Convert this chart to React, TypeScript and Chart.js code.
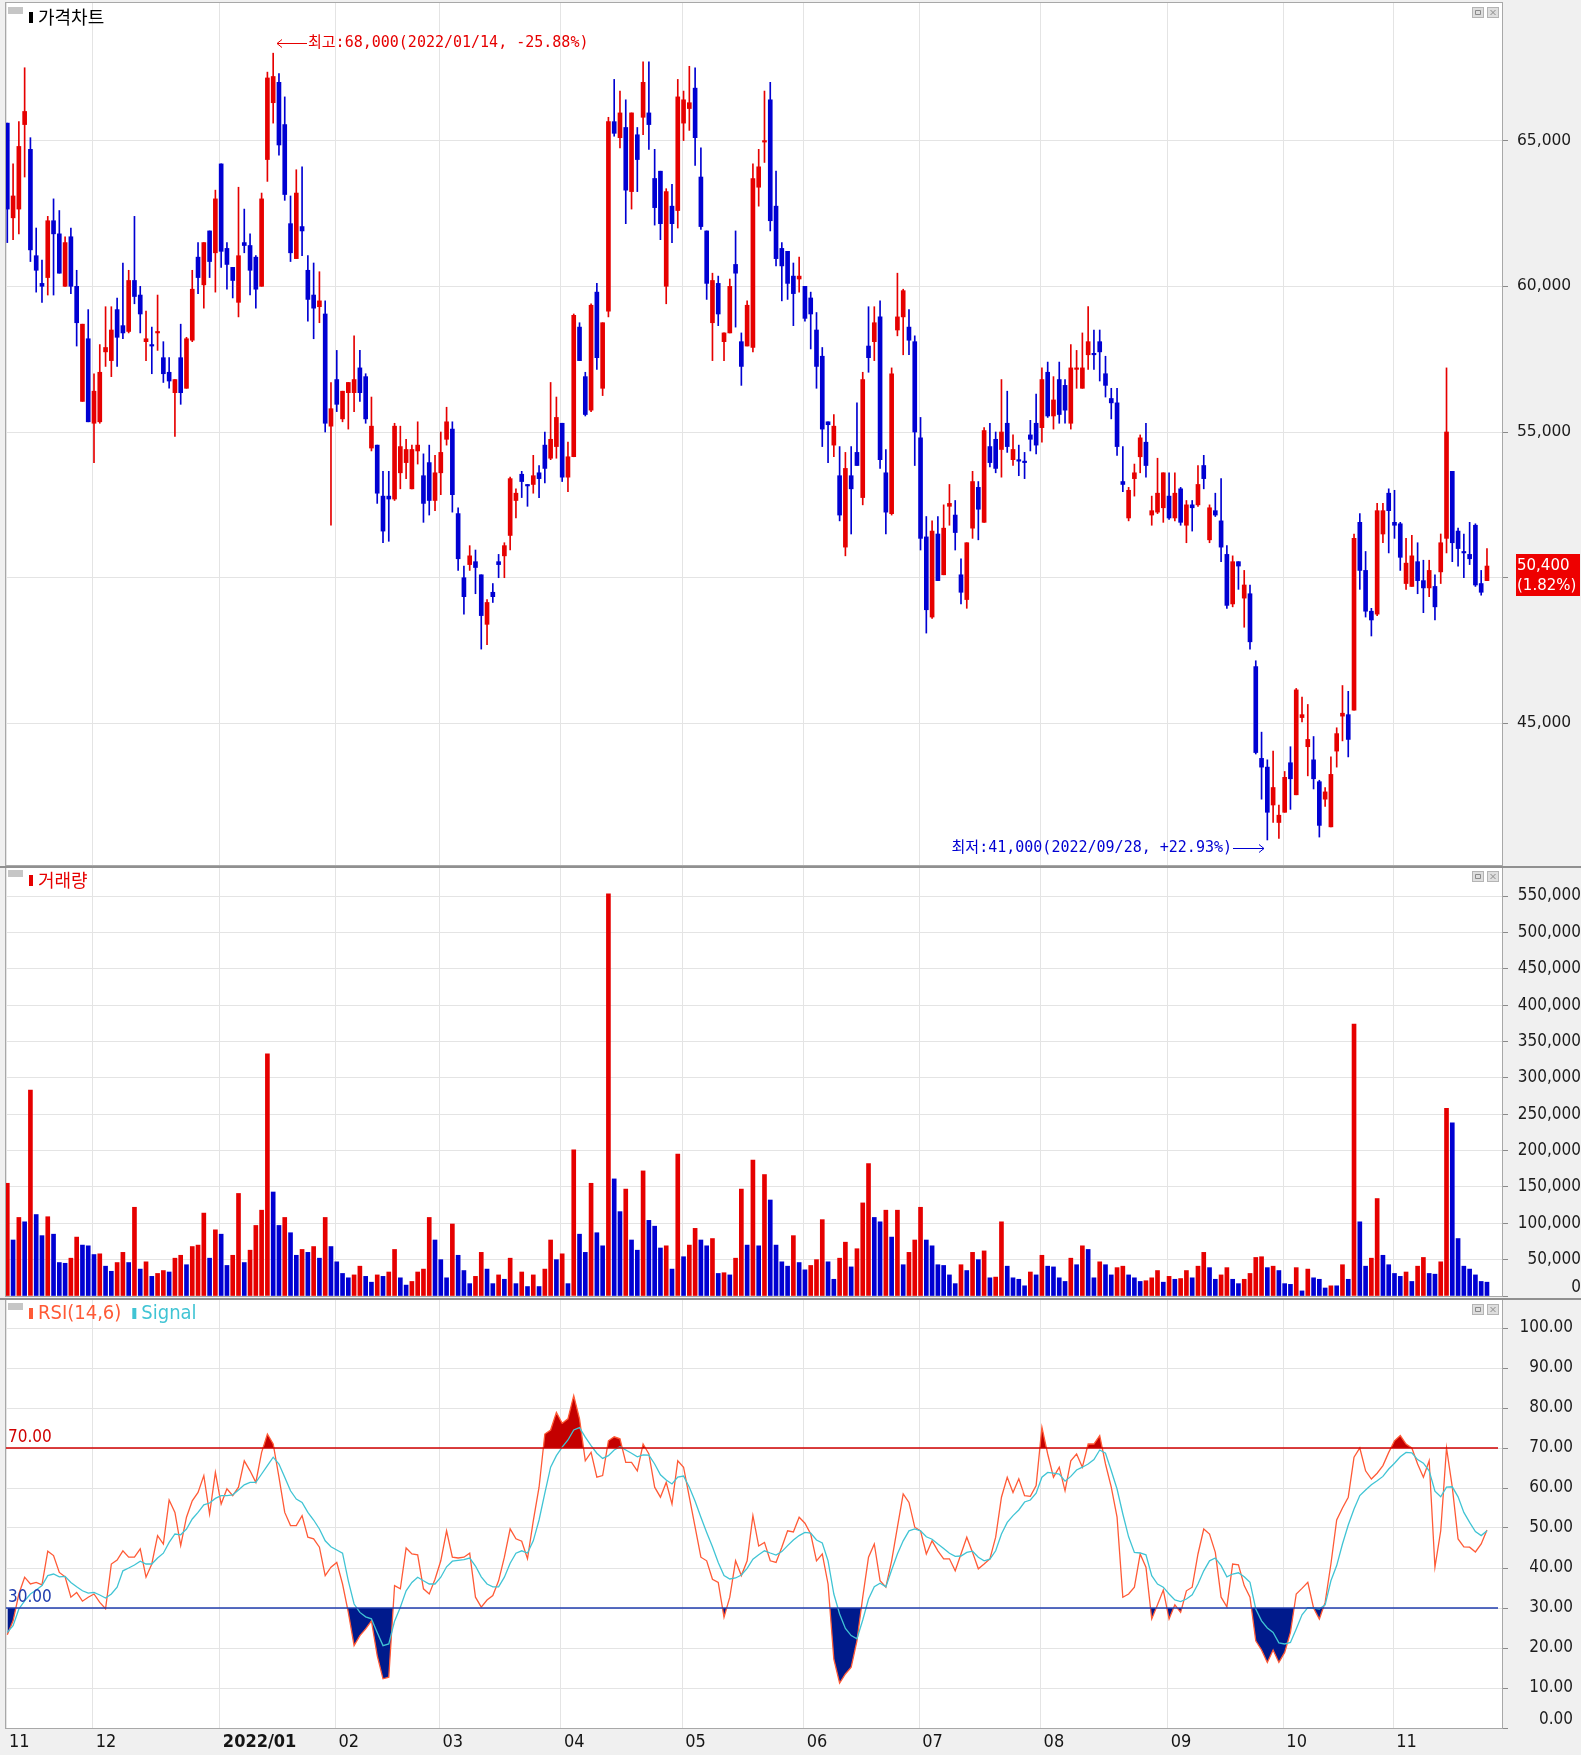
import React, { useEffect, useRef } from 'react';
import { Chart, registerables } from 'chart.js';

Chart.register(...registerables);

// ================= DATA =================
const opens = [
  65600, 62350, 62650, 65550, 64700, 61050, 60100, 60300, 62250, 61800,
  60000, 61700, 60000, 56050, 58200, 55300, 55350, 57750, 57450, 59200,
  58650, 58450, 60200, 59700, 58100, 58000, 58400, 57550, 57050, 56350,
  57550, 56500, 58150, 61000, 60050, 61900, 61150, 64200, 61300, 60650,
  59450, 61500, 61400, 61000, 60000, 64350, 66300, 67000, 65550, 62150,
  60950, 62050, 60550, 59700, 59300, 59050, 55200, 56800, 55450, 56350,
  56350, 57200, 56900, 54450, 54550, 52800, 52800, 52700, 53600, 53950,
  53050, 54350, 53500, 53950, 52650, 53600, 54750, 55100, 52200, 50000,
  50450, 50550, 50100, 48400, 49500, 50550, 50750, 51450, 52650, 53550,
  53200, 53200, 53600, 54550, 54100, 54500, 55300, 53450, 54150, 58600,
  56900, 55750, 59800, 56500, 59150, 65650, 65100, 65450, 63250, 65200,
  65800, 65950, 63700, 63950, 60000, 62750, 62600, 65600, 66100, 66800,
  63750, 61900, 58750, 60100, 58100, 58400, 60750, 58100, 57950, 57900,
  63400, 64950, 66400, 62750, 61300, 61200, 60350, 60250, 60000, 59600,
  58500, 57600, 55350, 54550, 53500, 51050, 53500, 54300, 52750, 57950,
  58100, 58950, 53600, 52200, 58500, 58950, 58600, 58100, 54800, 51400,
  48650, 51500, 50100, 52450, 52150, 50100, 49250, 51700, 53100, 51900,
  54500, 54750, 54400, 55300, 54050, 54050, 54000, 54900, 55300, 55150,
  57050, 55550, 56800, 56600, 55300, 57150, 56500, 57650, 57700, 58100,
  57000, 56150, 56000, 53300, 52050, 53400, 54150, 54650, 52150, 52250,
  52400, 52800, 52050, 53050, 51800, 52500, 52500, 53850, 51300, 52300,
  51950, 50800, 49100, 50550, 49300, 49450, 46950, 43800, 43500, 42200,
  41600, 41950, 43650, 42550, 45200, 44200, 43750, 43000, 42400, 41450,
  44050, 45250, 45300, 45450, 51900, 50250, 48850, 48750, 51500, 52900,
  51900, 51850, 49800, 49700, 50550, 49900, 49650, 49700, 50200, 51350,
  53650, 51600, 50900, 50800, 51800, 49800, 49900,
];

const highs = [
  65600, 64200, 65650, 67500, 65100, 62000, 60900, 62400, 63000, 62600,
  61700, 62000, 60550, 58700, 59200, 57000, 58000, 59300, 59300, 59600,
  60800, 60550, 62400, 60000, 59150, 58600, 59700, 58100, 57550, 56800,
  58700, 58250, 60550, 61500, 61500, 61900, 63300, 64200, 61500, 60650,
  63400, 62650, 61800, 61050, 63200, 67350, 68000, 67300, 66500, 63100,
  64000, 64100, 61050, 60800, 60500, 59500, 56700, 57800, 56400, 56700,
  58300, 57800, 57000, 56200, 54550, 53650, 53650, 55300, 55200, 54750,
  54550, 55350, 54250, 54550, 54200, 55000, 55850, 55350, 52400, 50400,
  51100, 50950, 50100, 49250, 49800, 50800, 51200, 53450, 53050, 53650,
  53200, 54200, 53850, 55000, 56700, 56200, 55300, 54650, 59050, 58750,
  57050, 59400, 60100, 58750, 65800, 67100, 66700, 66400, 65950, 65450,
  67700, 67700, 64700, 63950, 63350, 63500, 67100, 66700, 67550, 67500,
  64750, 61900, 60450, 60350, 58400, 60250, 61900, 58400, 59500, 64200,
  64700, 66700, 67000, 63950, 61500, 61200, 60800, 61000, 60000, 59800,
  59100, 57900, 55350, 55600, 54500, 54300, 54500, 56000, 57050, 59300,
  59300, 59500, 54400, 57200, 60450, 59900, 59200, 58300, 55500, 52100,
  51950, 52100, 52500, 53200, 52650, 50650, 51200, 53650, 53300, 55150,
  55300, 55000, 56800, 56400, 54900, 54550, 54300, 55400, 56300, 57200,
  57400, 56900, 57400, 56800, 58000, 57800, 58400, 59300, 58500, 58500,
  57600, 56500, 56500, 54500, 53100, 53900, 54900, 55300, 52800, 54100,
  53600, 53600, 53600, 53100, 52650, 52650, 53850, 54200, 52500, 52900,
  53400, 51100, 50750, 50550, 50250, 49750, 47150, 44700, 43750, 44050,
  42200, 43350, 44200, 46200, 45900, 45650, 44550, 43050, 42800, 43850,
  44850, 46300, 46100, 51500, 52200, 50900, 48950, 52550, 52550, 53050,
  53000, 51900, 51350, 51450, 51200, 50600, 50600, 50100, 51500, 57200,
  53650, 51700, 51500, 51900, 51850, 50250, 51000,
];

const lows = [
  61500, 61600, 61800, 63750, 60850, 59800, 59450, 59700, 59700, 60450,
  60000, 59750, 57950, 56050, 55350, 53950, 55300, 57250, 56900, 57250,
  58200, 58400, 59400, 58400, 57450, 57000, 57800, 56700, 56500, 54850,
  55950, 56500, 58100, 59750, 59250, 60300, 59800, 60650, 59900, 59600,
  58950, 61150, 59700, 59250, 60000, 63600, 65600, 64500, 62950, 60850,
  60950, 61050, 58800, 58200, 58750, 55000, 51800, 55700, 55350, 55100,
  55700, 56050, 55300, 54350, 52550, 51200, 51250, 52650, 53050, 53400,
  53050, 53900, 51900, 52150, 52300, 52850, 54550, 52250, 50250, 48750,
  50250, 49450, 47550, 47700, 49150, 50000, 50000, 50950, 52050, 52750,
  52450, 52900, 52750, 53250, 54050, 54100, 53300, 52950, 54150, 57450,
  55550, 55700, 57150, 56250, 58950, 65150, 64750, 62150, 62650, 63250,
  65200, 64700, 62100, 61600, 59400, 61500, 62000, 65000, 65350, 64150,
  61950, 59550, 57450, 58650, 57450, 58400, 58600, 56600, 57950, 57750,
  62750, 64250, 61900, 60700, 59500, 59550, 58650, 59800, 58800, 57850,
  56500, 54500, 53950, 54150, 51950, 50750, 51500, 53850, 52500, 57050,
  57450, 53750, 51500, 52150, 58300, 57650, 57650, 53850, 50950, 48100,
  48600, 49900, 50100, 51800, 50950, 49100, 48950, 51350, 51300, 51900,
  53800, 53600, 53450, 54300, 53850, 53500, 53400, 54350, 54250, 54650,
  55500, 55100, 55300, 55300, 55100, 56500, 56500, 57150, 57150, 56750,
  56200, 55450, 54200, 52950, 51950, 52800, 53600, 53450, 51800, 52200,
  51900, 52000, 51950, 51800, 51200, 51600, 52450, 53050, 51200, 52100,
  50550, 48950, 49000, 49600, 48300, 47550, 43950, 42400, 41000, 41600,
  41050, 41950, 42050, 42550, 45050, 43200, 42750, 41100, 42150, 41450,
  43500, 44400, 43850, 45450, 49600, 48650, 48000, 48700, 51200, 50850,
  51350, 50250, 49600, 49700, 49450, 48800, 49350, 48550, 49800, 50850,
  50550, 50400, 50000, 50450, 49700, 49400, 49900,
];

const closes = [
  62650, 63100, 64800, 66000, 61250, 60550, 60000, 62250, 61800, 60450,
  61500, 60000, 58750, 58700, 55350, 56400, 57050, 57900, 58500, 58250,
  58400, 60200, 59650, 59050, 58200, 57950, 58450, 57000, 56750, 56800,
  56350, 58200, 59900, 60300, 61500, 60850, 63000, 61200, 60750, 60200,
  61050, 61400, 60550, 59900, 63000, 67150, 67200, 64850, 63150, 61150,
  63200, 61900, 59550, 59250, 59500, 55300, 55800, 55950, 56400, 56700,
  56800, 56350, 55450, 55200, 52900, 51600, 52700, 55200, 54500, 54400,
  54400, 54550, 52550, 52650, 53600, 54300, 55350, 52850, 50650, 49350,
  50750, 50350, 48700, 49150, 49350, 50450, 51100, 53400, 52900, 53300,
  53150, 53500, 53400, 53750, 54750, 55500, 53450, 54150, 59000, 57450,
  55600, 59350, 57550, 58750, 65650, 65250, 65950, 63300, 65950, 64350,
  67000, 65550, 62700, 62150, 63250, 62150, 66500, 66400, 66300, 65100,
  62050, 60100, 60200, 59050, 58400, 60000, 60450, 57250, 59350, 63700,
  64100, 65000, 62250, 60950, 60700, 60100, 59750, 60350, 58900, 59050,
  57250, 55100, 55250, 55200, 52150, 53750, 53050, 53850, 56800, 57550,
  58750, 54050, 52250, 57000, 58950, 59850, 58150, 55000, 51350, 48900,
  51600, 49900, 51700, 52550, 51550, 49500, 51200, 53300, 52350, 55050,
  53950, 53750, 55000, 54500, 54400, 54000, 53950, 54750, 54550, 56800,
  55550, 56100, 55600, 55750, 57200, 57200, 57200, 58100, 57650, 57750,
  56600, 56000, 54500, 53200, 53000, 53600, 54800, 53850, 52300, 52900,
  53600, 52050, 52900, 51900, 52500, 52400, 53200, 53400, 52400, 52150,
  51050, 49050, 50550, 50400, 49750, 47800, 44000, 43500, 41950, 42800,
  41850, 43150, 43100, 46150, 45300, 44450, 43100, 41500, 42650, 43250,
  44650, 45350, 44450, 51350, 50250, 48850, 48550, 52300, 52300, 52300,
  51800, 50700, 50500, 50750, 49900, 49650, 50250, 49000, 51200, 55000,
  51200, 51000, 50850, 50650, 49750, 49500, 50400,
];

const volumes = [
  155000, 77000, 108000, 102000, 283000, 112000, 83000, 109000, 85000, 46000,
  45000, 52000, 81000, 70000, 69000, 57000, 58000, 41000, 34000, 46000,
  60000, 46000, 122000, 37000, 47000, 27000, 31000, 35000, 33000, 52000,
  56000, 43000, 68000, 70000, 114000, 52000, 91000, 85000, 42000, 56000,
  141000, 46000, 63000, 97000, 118000, 333000, 143000, 97000, 108000, 87000,
  56000, 64000, 60000, 68000, 52000, 108000, 68000, 47000, 31000, 25000,
  29000, 41000, 27000, 19000, 29000, 27000, 33000, 64000, 25000, 15000,
  20000, 33000, 37000, 108000, 77000, 50000, 25000, 99000, 56000, 35000,
  17000, 27000, 60000, 37000, 17000, 29000, 23000, 52000, 17000, 33000,
  13000, 29000, 13000, 37000, 77000, 50000, 58000, 17000, 201000, 85000,
  60000, 155000, 87000, 69000, 553000, 161000, 116000, 147000, 77000, 63000,
  172000, 104000, 96000, 66000, 69000, 37000, 195000, 54000, 70000, 93000,
  77000, 69000, 79000, 31000, 32000, 29000, 52000, 147000, 70000, 187000,
  69000, 167000, 132000, 70000, 47000, 41000, 83000, 46000, 36000, 42000,
  50000, 105000, 47000, 23000, 52000, 74000, 40000, 65000, 128000, 182000,
  108000, 102000, 118000, 81000, 118000, 43000, 60000, 77000, 122000, 77000,
  69000, 43000, 42000, 29000, 17000, 43000, 35000, 60000, 50000, 62000,
  25000, 26000, 102000, 41000, 25000, 23000, 14000, 33000, 29000, 56000,
  41000, 40000, 25000, 20000, 52000, 43000, 69000, 64000, 25000, 47000,
  43000, 29000, 39000, 41000, 29000, 25000, 20000, 21000, 25000, 35000,
  19000, 27000, 23000, 24000, 35000, 25000, 41000, 60000, 39000, 23000,
  29000, 39000, 23000, 17000, 23000, 31000, 53000, 54000, 39000, 41000,
  35000, 17000, 16000, 39000, 7000, 37000, 25000, 23000, 11000, 14000,
  14000, 43000, 23000, 374000, 102000, 41000, 52000, 134000, 56000, 43000,
  31000, 27000, 33000, 20000, 41000, 53000, 31000, 30000, 47000, 258000,
  238000, 79000, 41000, 37000, 29000, 20000, 19000,
];

const rsiValues = [
  23.3, 26.8, 33.5, 37.7, 36, 36.4, 35.8, 44.2, 43.1, 38.9,
  37.8, 32.7, 33.9, 31.7, 32.7, 33.5, 31.4, 29.8, 41, 42,
  44.3, 42.7, 42.7, 44.8, 37.7, 41, 48.1, 46, 57, 53.9,
  45.6, 52.7, 56.8, 58.9, 63.1, 53.5, 63.9, 56, 59.8, 58.1,
  60.2, 66.8, 64.3, 61.4, 68.9, 73.5, 71, 62.7, 53.9, 50.6,
  50.6, 53.1, 47.7, 47.3, 45.2, 38.1, 40.2, 41.4, 36, 28.9,
  20.6, 23.1, 24.8, 26.8, 18.1, 12.3, 12.7, 35.6, 34.8, 45,
  43.5, 43.3, 34.8, 33.5, 37.2, 41.8, 49.3, 42.7, 42.5, 42.7,
  43.7, 32.7, 30.2, 32, 33.1, 36.8, 42.7, 49.8, 47.3, 46.7,
  42.3, 51.8, 60.2, 73.5, 74.5, 78.9, 76.2, 77.3, 83.1, 77.3,
  66.8, 68.9, 62.7, 63.1, 71.8, 72.8, 72.3, 66.4, 66.4, 64.3,
  71, 68.5, 60.2, 57.7, 61.4, 56, 66.8, 65.2, 57.7, 50.2,
  42.7, 41.8, 37.2, 36.4, 27.7, 32.7, 41.8, 38.1, 41.8, 53.1,
  45.5, 46.4, 41.8, 41.4, 45.2, 49.3, 49, 52.7, 51.2, 48.5,
  41.8, 43.5, 36, 17.2, 11.25, 13.5, 15.2, 21.8, 32.7, 42.7,
  46, 36.8, 35.2, 41.8, 50.2, 58.5, 56.4, 50.2, 49.3, 43.5,
  46.8, 44.3, 42.3, 42.3, 39.3, 43.5, 47.7, 43.9, 39.8, 41,
  42.3, 47.7, 57.7, 62.7, 58.9, 62.3, 58.1, 57.9, 60.6, 75.2,
  68.5, 62.7, 65.2, 59.3, 66.8, 68.5, 65.2, 71, 71, 73.1,
  66, 60.2, 52.7, 32.7, 33.5, 35.2, 43.5, 40.2, 27.25, 30.8,
  34.5, 27.25, 30.8, 28.9, 34.3, 35.2, 43.5, 49.75, 48.5, 43.9,
  32.7, 30.3, 41, 40.8, 35.6, 32.7, 21.8, 19.5, 16.4, 19.5,
  16.4, 18.9, 23.9, 33.5, 34.9, 36.4, 30, 27.25, 31.4, 41,
  52, 55, 57.7, 67.7, 70, 64.3, 62.25, 63.7, 65.6, 68.9,
  71.8, 73.1, 71, 70, 66, 62.7, 66.8, 40.2, 49.3, 70,
  60.2, 47.25, 45.3, 45.2, 44, 46, 49.5,
];

const signalValues = [
  23.9, 25.6, 29.75, 31.8, 33.5, 34.5, 35.6, 38.1, 38.5, 37.8,
  37.9, 36.4, 35.3, 34.3, 33.7, 33.9, 33.25, 32.5, 33.5, 35.2,
  39.3, 40, 40.75, 41.7, 41, 41, 42.5, 43.7, 46.4, 48.5,
  48.3, 49.75, 52.25, 53.9, 55.8, 56.25, 57.4, 58.1, 58.1, 58.3,
  59.5, 60.8, 61.4, 61.4, 63.5, 65.6, 67.7, 66, 62.7, 59.3,
  57.25, 56.4, 53.9, 52, 49.75, 46.8, 45.3, 44.5, 43.7, 36.8,
  31, 28.9, 27.8, 27.3, 23.9, 20.6, 21, 26.7, 30.2, 34.3,
  36.4, 37.7, 36.8, 36, 36, 37.7, 40.3, 41.7, 41.9, 42.1,
  42.5, 40.5, 37.8, 36, 35.3, 35.3, 37.7, 41.2, 43.7, 44.3,
  43.75, 46.8, 52, 58.7, 65.2, 68.1, 70.2, 72, 74.5, 75.1,
  72.7, 70.6, 68.7, 67.4, 68.1, 69.5, 70.3, 69.5, 68.7, 67.8,
  68.3, 68.2, 66, 63.3, 62, 61, 62.7, 63, 60.2, 56.7,
  52.7, 48.9, 45.3, 41.4, 38.1, 37.25, 37.5, 38.25, 39.9, 42.2,
  43.3, 44.3, 43.75, 43.25, 44.1, 45.6, 47, 48.1, 48.9, 48.75,
  47, 46.25, 41.8, 33.5, 28.5, 24.9, 23.1, 22.3, 27, 32.25,
  35.3, 36.2, 35.3, 39.5, 43.5, 46.8, 49.3, 49.75, 49.3, 47.8,
  47.2, 46, 44.9, 43.7, 42.9, 43, 43.9, 44.2, 42.7, 41.8,
  42.2, 44.3, 48.5, 51.4, 53.1, 54.5, 56.5, 57, 58.7, 62.7,
  63.9, 63.7, 63.5, 61.7, 62.9, 64.5, 65.2, 66, 67.1, 69.5,
  68.7, 64.3, 59.75, 53.5, 47.8, 43.9, 43.75, 43.3, 38.1, 36,
  35.2, 33.5, 32, 31.6, 32.25, 33.3, 36, 39.3, 41.8, 42.5,
  40.6, 37.8, 38.5, 38.8, 37.8, 36.4, 29.75, 26.8, 25, 23.9,
  21.3, 21, 21.4, 24.75, 28.3, 30.1, 30, 29.75, 30.8, 36.8,
  40.6, 46, 50.75, 54.75, 58.1, 59.5, 60.8, 61.8, 62.9, 64.75,
  66.2, 67.8, 68.9, 68.8, 67.1, 66.2, 64.3, 59.2, 57.8, 60.2,
  60.3, 57.8, 53.9, 51.4, 49.1, 48.1, 49.3,
];

const monthStartIndex = [0, 15, 37, 57, 75, 96, 117, 138, 158, 179, 201, 221, 240];
const monthLabels = ['11', '12', '2022/01', '02', '03', '04', '05', '06', '07', '08', '09', '10', '11'];
const priceTicks = [45000, 50000, 55000, 60000, 65000];
const volumeTicks = [0, 50000, 100000, 150000, 200000, 250000, 300000, 350000, 400000, 450000, 500000, 550000];
const rsiTicks = [0, 10, 20, 30, 40, 50, 60, 70, 80, 90, 100];
const rsiUpperBand = 70;
const rsiLowerBand = 30;
const highDateLabel = '2022/01/14';
const lowDateLabel = '2022/09/28';
const priceTitle = '가격차트';
const volumeTitle = '거래량';
const rsiTitle = 'RSI(14,6)';
const signalTitle = 'Signal';

// ================= LAYOUT / STYLE =================
const W = 1581;
const LEFT_PAD = 6;
const X_MIN = -0.225;
const X_MAX = 258.6;
const PRICE_MIN = 40141;
const PRICE_MAX = 69722;
const VOLUME_MAX = 588500;
const RSI_MAX = 107;
const PRICE_H = 866;
const VOL_TOP = 866;
const VOL_H = 432;
const RSI_TOP = 1298;
const RSI_H = 457;
const AXIS_STRIP = 27;

const RED = '#e60000';
const BLUE = '#0000d2';
const GRID = '#e4e4e4';
const FRAME = '#a8a8a8';
const PANEL_BG = '#f0f0f0';
const RSI_COLOR = '#ff5a36';
const SIGNAL_COLOR = '#40c4d4';
const FILL_HIGH = '#c40000';
const FILL_LOW = '#001a8c';
const BAND_HIGH = '#d00000';
const BAND_LOW = '#1f3cae';

const NARROW = "'DejaVu Sans Condensed', 'Liberation Sans Narrow', 'Liberation Sans', sans-serif";
const SANS = "'DejaVu Sans', 'Liberation Sans', sans-serif";
const KR = "'Noto Sans CJK KR', 'Noto Sans', sans-serif";
const MONO = "'DejaVu Sans Mono', 'Liberation Mono', 'Noto Sans CJK KR', monospace";

const fmtInt = (v: number) => Number(v).toLocaleString('en-US');
const fmtPct = (v: number) => (v >= 0 ? '+' : '') + v.toFixed(2) + '%';

function xScale(showLabels: boolean) {
  return {
    type: 'linear',
    min: X_MIN,
    max: X_MAX,
    offset: false,
    grid: { color: GRID, offset: false, drawTicks: false, lineWidth: 1 },
    border: { display: false },
    ticks: showLabels
      ? {
          display: true,
          autoSkip: false,
          maxRotation: 0,
          minRotation: 0,
          align: 'start',
          labelOffset: 3,
          padding: 4,
          color: '#151515',
          font: (ctx: any) => ({
            family: NARROW,
            size: 18,
            weight: monthLabels[ctx.index] && monthLabels[ctx.index].includes('/') ? 'bold' : 'normal',
          }),
          callback: (_v: any, i: number) => monthLabels[i],
        }
      : { display: false },
    afterBuildTicks: (s: any) => {
      s.ticks = monthStartIndex.map((i) => ({ value: i + X_MIN }));
    },
    afterFit: (s: any) => {
      s.height = showLabels ? AXIS_STRIP : 0;
      s.paddingLeft = 0;
      s.paddingRight = 0;
    },
  };
}

function yScale(
  min: number,
  max: number,
  ticks: number[],
  fmt: (v: number) => string,
  font: any,
  hideZero: boolean,
  crossAlign: string,
  width: number,
) {
  return {
    type: 'linear',
    position: 'right',
    min,
    max,
    beginAtZero: false,
    grid: { color: GRID, drawTicks: true, tickLength: 6, tickColor: '#8a8a8a', lineWidth: 1 },
    border: { display: true, color: FRAME },
    ticks: {
      padding: 9,
      crossAlign,
      autoSkip: false,
      color: '#1c1c1c',
      font,
      callback: (v: any) => (hideZero && Number(v) === 0 ? '' : fmt(Number(v))),
    },
    afterBuildTicks: (s: any) => {
      s.ticks = ticks.map((v) => ({ value: v }));
    },
    afterFit: (s: any) => {
      s.width = width;
      s.paddingTop = 0;
      s.paddingBottom = 0;
    },
  };
}

function drawTitle(ctx: CanvasRenderingContext2D, y0: number, parts: { text: string; color: string; font: string }[]) {
  ctx.fillStyle = '#c6c6c6';
  ctx.fillRect(8, y0, 15, 7);
  let x = 29;
  for (const p of parts) {
    ctx.fillStyle = p.color;
    ctx.fillRect(x, y0 + 5, 4, 11);
    ctx.font = p.font;
    ctx.textBaseline = 'middle';
    ctx.textAlign = 'left';
    ctx.fillText(p.text, x + 9, y0 + 10.5);
    x += 9 + ctx.measureText(p.text).width + 11;
  }
}

function drawIcons(ctx: CanvasRenderingContext2D, right: number, y: number) {
  const boxes = [right - 30, right - 15];
  boxes.forEach((bx, k) => {
    ctx.fillStyle = '#dedede';
    ctx.fillRect(bx, y, 12, 11);
    ctx.strokeStyle = '#b4b4b4';
    ctx.lineWidth = 1;
    ctx.strokeRect(bx + 0.5, y + 0.5, 11, 10);
    ctx.strokeStyle = '#8a8a8a';
    ctx.beginPath();
    if (k === 0) {
      ctx.rect(bx + 3.5, y + 3.5, 5, 4);
    } else {
      ctx.moveTo(bx + 3.5, y + 3);
      ctx.lineTo(bx + 8.5, y + 8);
      ctx.moveTo(bx + 8.5, y + 3);
      ctx.lineTo(bx + 3.5, y + 8);
    }
    ctx.stroke();
  });
}

function chromePlugin(kind: 'price' | 'volume' | 'rsi') {
  return {
    id: 'chrome-' + kind,
    beforeDraw(chart: any) {
      const { ctx, width, height, chartArea: a } = chart;
      ctx.save();
      ctx.fillStyle = PANEL_BG;
      ctx.fillRect(0, 0, width, height);
      ctx.fillStyle = '#ffffff';
      ctx.fillRect(a.left, a.top, a.right - a.left, a.bottom - a.top);
      ctx.restore();
    },
    afterDraw(chart: any) {
      const { ctx, width, chartArea: a } = chart;
      ctx.save();
      ctx.strokeStyle = FRAME;
      ctx.lineWidth = 1;
      ctx.strokeRect(a.left - 0.5, a.top - 0.5, a.right - a.left + 1, a.bottom - a.top + 1);
      if (kind !== 'price') {
        ctx.fillStyle = '#909090';
        ctx.fillRect(0, 0, width, 2);
      }
      if (kind === 'price') {
        drawTitle(ctx, 7, [{ text: priceTitle, color: '#000000', font: `18px ${KR}` }]);
        drawIcons(ctx, a.right, 7);
      } else if (kind === 'volume') {
        drawTitle(ctx, 4, [{ text: volumeTitle, color: RED, font: `18px ${KR}` }]);
        drawIcons(ctx, a.right, 5);
      } else {
        drawTitle(ctx, 5, [
          { text: rsiTitle, color: RSI_COLOR, font: `20px ${NARROW}` },
          { text: signalTitle, color: SIGNAL_COLOR, font: `20px ${NARROW}` },
        ]);
        drawIcons(ctx, a.right, 6);
      }
      ctx.restore();
    },
  };
}

const priceDecor = {
  id: 'priceDecor',
  afterDatasetsDraw(chart: any) {
    const { ctx } = chart;
    const xs = chart.scales.x;
    const ys = chart.scales.y;
    const last = closes[closes.length - 1];
    const hi = Math.max(...highs);
    const hiIdx = highs.indexOf(hi);
    const lo = Math.min(...lows);
    const loIdx = lows.indexOf(lo);
    ctx.save();
    ctx.font = `15px ${MONO}`;
    ctx.textBaseline = 'middle';
    ctx.lineWidth = 1;
    // highest
    let x = Math.round(xs.getPixelForValue(hiIdx) + 4);
    let y = Math.round(ys.getPixelForValue(hi) - 10) + 0.5;
    ctx.strokeStyle = RED;
    ctx.fillStyle = RED;
    ctx.beginPath();
    ctx.moveTo(x, y);
    ctx.lineTo(x + 30, y);
    ctx.moveTo(x + 5, y - 4);
    ctx.lineTo(x, y);
    ctx.lineTo(x + 5, y + 4);
    ctx.stroke();
    ctx.textAlign = 'left';
    ctx.fillText(`최고:${fmtInt(hi)}(${highDateLabel}, ${fmtPct(((last - hi) / hi) * 100)})`, x + 31, y);
    // lowest
    x = Math.round(xs.getPixelForValue(loIdx) - 3);
    y = Math.round(ys.getPixelForValue(lo) + 8) + 0.5;
    ctx.strokeStyle = BLUE;
    ctx.fillStyle = BLUE;
    ctx.beginPath();
    ctx.moveTo(x - 31, y);
    ctx.lineTo(x, y);
    ctx.moveTo(x - 5, y - 4);
    ctx.lineTo(x, y);
    ctx.lineTo(x - 5, y + 4);
    ctx.stroke();
    ctx.textAlign = 'right';
    ctx.fillText(`최저:${fmtInt(lo)}(${lowDateLabel}, ${fmtPct(((last - lo) / lo) * 100)})`, x - 32, y);
    ctx.restore();
  },
  afterDraw(chart: any) {
    const { ctx, chartArea: a } = chart;
    const ys = chart.scales.y;
    const last = closes[closes.length - 1];
    const prev = closes[closes.length - 2];
    const chg = ((last - prev) / prev) * 100;
    const py = Math.round(ys.getPixelForValue(last));
    ctx.save();
    ctx.fillStyle = '#ee0000';
    ctx.fillRect(a.right + 14, py - 12, 64, 42);
    ctx.fillStyle = '#ffffff';
    ctx.font = `15px ${SANS}`;
    ctx.textAlign = 'left';
    ctx.textBaseline = 'middle';
    ctx.fillText(fmtInt(last), a.right + 15, py);
    ctx.fillText(`(${Math.abs(chg).toFixed(2)}%)`, a.right + 15, py + 20);
    ctx.restore();
  },
};

function zeroLabelPlugin(id: string, text: string) {
  return {
    id,
    afterDraw(chart: any) {
      const { ctx, chartArea: a } = chart;
      const ys = chart.scales.y;
      ctx.save();
      ctx.font = `17px ${NARROW}`;
      ctx.fillStyle = '#1c1c1c';
      ctx.textAlign = 'right';
      ctx.textBaseline = 'middle';
      ctx.fillText(text, ys.right, a.bottom - 8);
      ctx.restore();
    },
  };
}

const rsiBandsPlugin = {
  id: 'rsiBands',
  afterDatasetsDraw(chart: any) {
    const { ctx, chartArea: a } = chart;
    const ys = chart.scales.y;
    ctx.save();
    ctx.font = `17px ${NARROW}`;
    ctx.textAlign = 'left';
    ctx.textBaseline = 'middle';
    const bands = [
      { v: rsiUpperBand, c: BAND_HIGH },
      { v: rsiLowerBand, c: BAND_LOW },
    ];
    for (const b of bands) {
      const y = Math.round(ys.getPixelForValue(b.v));
      ctx.strokeStyle = b.c;
      ctx.lineWidth = 1.6;
      ctx.beginPath();
      ctx.moveTo(a.left, y);
      ctx.lineTo(a.right - 4, y);
      ctx.stroke();
      ctx.fillStyle = b.c;
      ctx.fillText(b.v.toFixed(2), a.left + 2, y - 10);
    }
    ctx.restore();
  },
};

const idx = opens.map((_, i) => i);
const candleColors = closes.map((c, i) => (c >= opens[i] ? RED : BLUE));
const volumeColors = volumes.map((v, i) => (i === 0 || v > volumes[i - 1] ? RED : BLUE));

function baseOptions(padding: any) {
  return {
    animation: false,
    responsive: false,
    maintainAspectRatio: false,
    devicePixelRatio: 1,
    events: [],
    layout: { autoPadding: false, padding },
    plugins: { legend: { display: false }, tooltip: { enabled: false } },
  };
}

function priceConfig(): any {
  return {
    type: 'bar',
    data: {
      datasets: [
        {
          data: idx.map((i) => ({ x: i, y: [lows[i], highs[i]] })),
          backgroundColor: candleColors,
          barThickness: 1,
          grouped: false,
          borderWidth: 0,
          order: 2,
        },
        {
          data: idx.map((i) => ({ x: i, y: [opens[i], closes[i]] })),
          backgroundColor: candleColors,
          barThickness: 4,
          minBarLength: 1,
          grouped: false,
          borderWidth: 0,
          order: 1,
        },
      ],
    },
    options: {
      ...baseOptions({ left: LEFT_PAD, right: 0, top: 3, bottom: 1 }),
      scales: {
        x: xScale(false),
        y: yScale(PRICE_MIN, PRICE_MAX, priceTicks, fmtInt, { family: SANS, size: 15.5 }, false, 'near', 79),
      },
    },
    plugins: [chromePlugin('price'), priceDecor],
  };
}

function volumeConfig(): any {
  return {
    type: 'bar',
    data: {
      datasets: [
        {
          data: idx.map((i) => ({ x: i, y: volumes[i] })),
          backgroundColor: volumeColors,
          barThickness: 4,
          grouped: false,
          borderWidth: 0,
        },
      ],
    },
    options: {
      ...baseOptions({ left: LEFT_PAD, right: 0, top: 2, bottom: 2 }),
      scales: {
        x: xScale(false),
        y: yScale(0, VOLUME_MAX, volumeTicks, fmtInt, { family: NARROW, size: 17 }, true, 'far', 79),
      },
    },
    plugins: [chromePlugin('volume'), zeroLabelPlugin('volZero', '0')],
  };
}

function rsiConfig(): any {
  const rsiPts = idx.map((i) => ({ x: i, y: rsiValues[i] }));
  const sigPts = idx.map((i) => ({ x: i, y: signalValues[i] }));
  return {
    type: 'line',
    data: {
      datasets: [
        {
          data: sigPts,
          borderColor: SIGNAL_COLOR,
          borderWidth: 1.3,
          pointRadius: 0,
          tension: 0,
          fill: false,
          order: 0,
        },
        {
          data: rsiPts,
          borderColor: RSI_COLOR,
          borderWidth: 1.3,
          pointRadius: 0,
          tension: 0,
          fill: { target: { value: rsiUpperBand }, above: FILL_HIGH, below: 'rgba(0,0,0,0)' },
          order: 1,
        },
        {
          data: rsiPts,
          borderColor: 'rgba(0,0,0,0)',
          borderWidth: 0,
          pointRadius: 0,
          tension: 0,
          fill: { target: { value: rsiLowerBand }, above: 'rgba(0,0,0,0)', below: FILL_LOW },
          order: 2,
        },
      ],
    },
    options: {
      ...baseOptions({ left: LEFT_PAD, right: 8, top: 2, bottom: 0 }),
      scales: {
        x: xScale(true),
        y: yScale(0, RSI_MAX, rsiTicks, (v) => v.toFixed(2), { family: NARROW, size: 17 }, true, 'far', 71),
      },
    },
    plugins: [chromePlugin('rsi'), rsiBandsPlugin, zeroLabelPlugin('rsiZero', '0.00')],
  };
}

export default function App() {
  const priceRef = useRef<HTMLCanvasElement>(null);
  const volRef = useRef<HTMLCanvasElement>(null);
  const rsiRef = useRef<HTMLCanvasElement>(null);

  useEffect(() => {
    Chart.defaults.font.family = SANS;
    const charts: Chart[] = [];
    if (priceRef.current) charts.push(new Chart(priceRef.current, priceConfig()));
    if (volRef.current) charts.push(new Chart(volRef.current, volumeConfig()));
    if (rsiRef.current) charts.push(new Chart(rsiRef.current, rsiConfig()));
    return () => {
      charts.forEach((c) => c.destroy());
    };
  }, []);

  return (
    <div
      style={{
        position: 'absolute',
        left: 0,
        top: 0,
        width: W,
        height: RSI_TOP + RSI_H,
        background: PANEL_BG,
        overflow: 'hidden',
      }}
    >
      <canvas ref={priceRef} width={W} height={PRICE_H} style={{ position: 'absolute', left: 0, top: 0, width: W, height: PRICE_H }} />
      <canvas ref={volRef} width={W} height={VOL_H} style={{ position: 'absolute', left: 0, top: VOL_TOP, width: W, height: VOL_H }} />
      <canvas ref={rsiRef} width={W} height={RSI_H} style={{ position: 'absolute', left: 0, top: RSI_TOP, width: W, height: RSI_H }} />
    </div>
  );
}
